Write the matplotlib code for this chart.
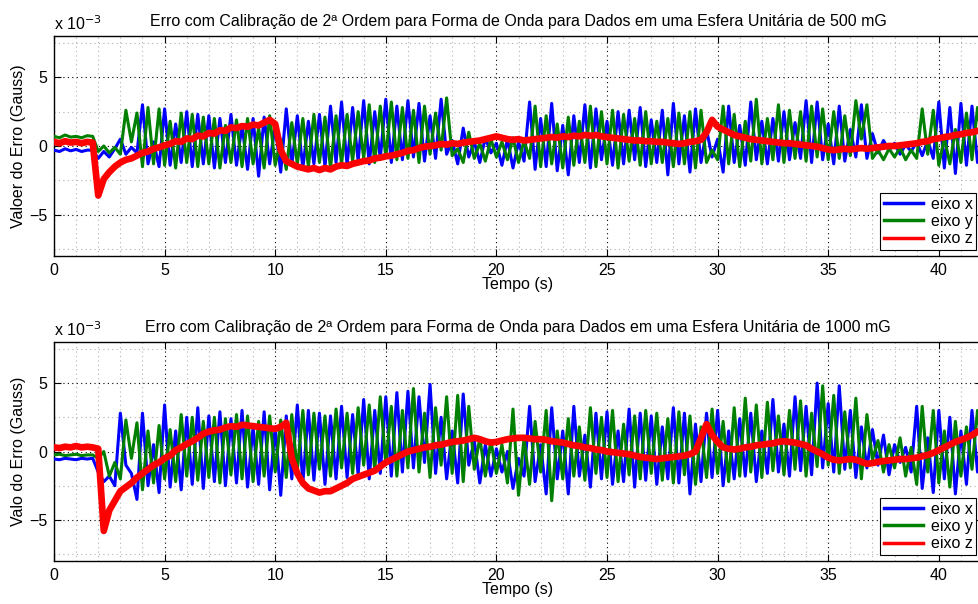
import numpy as np
import matplotlib
matplotlib.use('Agg')
import matplotlib.pyplot as plt
from matplotlib.lines import Line2D
from matplotlib.ticker import MultipleLocator

plt.rcParams['font.family'] = ['Liberation Sans', 'DejaVu Sans']

# Data (units of 1e-3 Gauss), sampled every 0.25 s from 0 to 42 s
dt = 0.25

x_500 = [
    -0.3, -0.4, -0.2, -0.35, -0.25, -0.4, -0.3, -0.3, -0.9, -0.4, -0.8, -0.2, 0.5, -0.6, -0.1, -0.5, 3.0, -1.3, 0.3, -1.5,
    2.7, -1.4, 1.6, -1.2, 2.5, -1.5, 2.3, -1.3, 2.2, -1.6, 2.0, -1.2, 2.3, -1.4, 1.5, -1.7, 2.0, -2.2, 2.1, -1.3,
    1.5, -1.9, 2.7, -1.4, 2.2, -1.6, 1.8, -1.3, 2.3, -1.5, 2.9, -1.2, 3.2, -1.4, 2.8, -1.1, 3.3, -1.3, 2.5, -0.9,
    3.4, -1.2, 2.9, -1.0, 3.3, -0.8, 3.1, -1.1, 2.2, -0.9, 3.4, -0.6, 0.4, -1.3, 1.3, -0.8, 0.3, -1.2, 0.6, -0.5,
    0.2, -1.4, 0.5, -1.6, 0.3, -1.1, 3.2, -1.7, 2.0, -1.5, 3.1, -1.8, 1.5, -2.1, 2.2, -1.2, 3.0, -1.6, 2.7, -1.0,
    1.8, -1.4, 2.5, -1.3, 2.6, -1.0, 2.8, -1.5, 1.9, -1.2, 2.6, -2.1, 3.1, -1.3, 2.2, -1.9, 2.7, -1.2, 1.2, -0.8,
    0.5, -1.9, 2.9, -1.2, 1.5, -1.4, 3.2, -1.0, 1.8, -1.3, 2.0, -1.1, 2.5, -1.0, 1.7, -0.9, 3.3, -1.2, 3.2, -1.0,
    1.6, -1.3, 2.9, -1.1, 1.2, -0.8, 3.0, -0.9, 0.9, -0.5, 0.4, -0.3, 0.2, -0.6, 0.1, -0.4, 0.3, -0.7, 0.4, -0.9,
    3.2, -1.6, 2.8, -2.0, 3.1, -1.4, 2.9, -1.2, 1.0,
]
y_500 = [
    0.7, 0.6, 0.8, 0.65, 0.7, 0.6, 0.75, 0.7, -0.4, 0.0, -0.5, -0.1, -0.6, 2.6, 0.3, 2.4, -1.5, 2.8, -1.3, 2.7,
    -1.4, 1.8, -1.6, 2.4, -1.2, 2.3, -1.5, 2.1, -1.3, 2.0, -1.6, 1.5, -1.2, 1.9, -1.5, 2.0, -1.3, 1.3, -1.6, 2.2,
    -1.4, 0.5, -1.7, 1.7, -1.3, 2.0, -1.5, 2.3, -1.2, 2.1, -1.6, 2.2, -1.3, 2.3, -1.1, 2.5, -0.9, 3.0, -1.2, 2.9,
    -0.8, 3.2, -1.0, 2.8, -0.9, 2.6, -1.2, 2.9, -0.6, 2.4, -0.3, 3.5, -0.7, -0.2, -1.2, 1.0, -0.9, 0.2, -1.1, 0.5,
    -0.8, 0.3, -1.0, 0.6, -1.2, 0.4, -0.9, 2.9, -1.5, 2.2, -1.3, 1.6, -1.6, 2.1, -1.4, 1.8, -1.2, 2.9, -1.5, 2.5,
    -1.3, 2.6, -1.6, 2.3, -1.1, 2.0, -1.4, 2.5, -1.3, 1.8, -1.2, 2.0, -1.5, 2.4, -1.3, 2.5, -1.6, 2.6, -1.2, -0.3,
    -1.0, 2.9, -1.3, 2.3, -1.5, 1.8, -1.1, 3.4, -1.3, 2.0, -1.0, 3.0, -1.2, 2.6, -0.9, 2.5, -1.1, 2.9, -0.8, 2.7,
    -1.0, 2.5, -0.9, 2.2, -0.7, 3.3, 0.5, 3.0, -0.9, -0.3, -1.0, -0.2, -0.8, -0.1, -1.0, -0.3, -0.9, 2.7, -0.6, 2.6,
    -1.4, 0.6, -1.3, 1.2, -1.2, 2.4, -1.0, 2.8, -0.5,
]
z_500 = [
    0.3, 0.2, 0.35, 0.25, 0.3, 0.2, 0.3, 0.25, -3.6, -2.4, -1.9, -1.5, -1.2, -1.0, -0.9, -0.7, -0.5, -0.4, -0.2, -0.1,
    0.05, 0.15, 0.35, 0.3, 0.55, 0.5, 0.75, 0.7, 0.95, 0.9, 1.15, 1.1, 1.35, 1.3, 1.45, 1.4, 1.55, 1.5, 1.7, 1.9,
    1.6, -0.3, -1.1, -1.3, -1.5, -1.6, -1.7, -1.6, -1.75, -1.6, -1.7, -1.5, -1.4, -1.45, -1.3, -1.2, -1.1, -1.05, -0.9, -0.85,
    -0.75, -0.7, -0.6, -0.5, -0.35, -0.3, -0.15, -0.05, 0.0, 0.05, 0.15, 0.1, 0.2, 0.15, 0.25, 0.3, 0.35, 0.4, 0.5, 0.6,
    0.7, 0.6, 0.5, 0.45, 0.5, 0.4, 0.45, 0.5, 0.55, 0.6, 0.65, 0.6, 0.7, 0.65, 0.75, 0.7, 0.8, 0.75, 0.8, 0.7,
    0.65, 0.6, 0.55, 0.5, 0.45, 0.4, 0.4, 0.35, 0.35, 0.3, 0.3, 0.25, 0.2, 0.15, 0.2, 0.3, 0.35, 0.45, 1.0, 1.9,
    1.4, 1.2, 1.0, 0.8, 0.7, 0.6, 0.5, 0.45, 0.4, 0.35, 0.3, 0.25, 0.2, 0.2, 0.15, 0.1, 0.05, 0.0, -0.05, -0.15,
    -0.25, -0.3, -0.25, -0.2, -0.25, -0.2, -0.15, -0.2, -0.15, -0.1, -0.05, 0.0, 0.0, 0.05, 0.1, 0.15, 0.2, 0.3, 0.35, 0.5,
    0.55, 0.65, 0.7, 0.8, 0.85, 0.95, 1.0, 1.1, 1.15,
]

x_1000 = [
    -0.55, -0.6, -0.5, -0.55, -0.6, -0.5, -0.55, -0.5, -1.5, -2.2, -1.8, -2.5, 2.8, -1.0, -1.6, -3.5, 2.8, -2.5, 0.5, -3.0,
    3.4, -2.6, 1.5, -2.8, 2.5, -2.4, 3.2, -2.7, 2.6, -2.2, 2.9, -2.5, 2.4, -2.3, 3.0, -2.6, 1.8, -2.4, 2.9, -2.8,
    1.8, -3.2, 2.6, -2.0, 3.4, -2.3, 3.0, -2.1, 2.8, -2.4, 2.6, -2.0, 3.3, -1.9, 2.7, -1.7, 3.8, -2.0, 3.0, -1.6,
    4.0, -1.8, 4.3, -1.5, 4.4, -1.2, 4.0, -0.8, 4.9, -1.6, 2.5, -2.0, 1.5, -2.3, 4.2, -1.0, 0.8, -2.3, 0.5, -1.8,
    0.2, -1.5, 0.0, -2.7, -0.5, -1.8, 3.3, -2.2, 0.5, -3.1, 3.2, -2.0, 1.5, -3.1, 3.3, -1.8, 1.2, -2.6, 2.8, -2.0,
    2.9, -2.4, 1.5, -2.2, 3.1, -2.6, 2.8, -2.1, 2.6, -2.4, 1.8, -2.0, 3.2, -2.3, 2.8, -3.1, 2.0, -2.2, 2.8, -1.9,
    3.0, -2.5, 1.5, -2.0, 2.4, -1.8, 2.8, -2.2, 1.5, -1.6, 3.8, -1.5, 2.0, -1.8, 4.0, -1.4, 3.3, -1.7, 5.0, -1.2,
    3.5, -1.5, 4.8, -1.3, 3.0, -1.9, 1.8, -1.2, 1.6, -1.0, 1.2, -1.7, 0.5, -0.8, 0.3, -1.5, 3.3, -2.7, 1.0, -3.0,
    3.0, -2.0, 2.5, -3.1, 1.5, -2.4, 3.0, -1.5, 2.5,
]
y_1000 = [
    -0.25, -0.2, -0.3, -0.25, -0.2, -0.3, -0.25, -0.25, -0.5, 0.0, -1.8, -0.8, -2.0, 2.3, -0.5, 2.1, -2.8, 1.5, -2.3, 1.9,
    -2.0, 1.6, -2.2, 2.7, -1.8, 2.5, -2.1, 2.2, -1.9, 2.5, -2.3, 2.4, -1.7, 2.7, -2.0, 2.6, -2.2, 2.2, -1.8, 2.6,
    -1.5, 2.3, -1.9, 2.7, -1.4, 3.0, -1.7, 2.8, -1.3, 2.6, -1.8, 3.1, -1.2, 2.8, -1.6, 3.2, -1.0, 3.4, -1.4, 4.0,
    -0.9, 3.3, -1.8, 3.0, -1.2, 4.6, -1.5, 2.8, -1.9, 3.2, -1.0, 4.0, -1.6, 4.1, -2.2, 3.3, -1.3, 1.0, -1.8, 0.8,
    -1.6, 0.5, -2.3, 3.1, -3.2, 1.0, -2.4, 2.2, -1.5, 3.0, -3.6, 1.5, -2.0, 2.4, -1.8, 1.8, -2.1, 3.2, -1.6, 2.5,
    -1.9, 3.0, -2.2, 2.0, -1.7, 2.6, -2.0, 3.0, -1.6, 2.8, -2.1, 2.4, -2.3, 2.9, -1.7, 2.6, -2.4, 1.8, -1.9, 3.1,
    -1.6, 2.2, -2.2, 3.2, -1.8, 3.9, -1.5, 3.4, -1.9, 3.6, -1.4, 2.6, -1.7, 3.0, -1.3, 3.7, -1.8, 2.8, -1.1, 4.8,
    -1.0, 4.1, -1.6, 2.9, -1.2, 3.9, -2.0, 2.7, -0.6, 0.8, -1.5, 0.5, -1.2, 1.0, -1.8, 0.3, -2.4, 3.3, -1.5, 3.0,
    -2.3, 1.5, -2.6, 2.2, -1.8, 1.8, -1.3, 3.0, -0.5,
]
z_1000 = [
    0.3, 0.25, 0.35, 0.3, 0.4, 0.3, 0.35, 0.3, 0.2, -5.8, -4.3, -3.6, -2.9, -2.6, -2.3, -1.9, -1.6, -1.3, -1.0, -0.8,
    -0.5, -0.3, 0.1, 0.3, 0.55, 0.75, 1.0, 1.3, 1.45, 1.55, 1.6, 1.75, 1.85, 1.8, 1.95, 1.9, 1.85, 1.8, 1.75, 1.7,
    1.65, 1.8, 2.1, -0.5, -1.6, -2.3, -2.7, -2.85, -3.0, -2.9, -2.9, -2.7, -2.5, -2.3, -2.0, -1.85, -1.7, -1.55, -1.4, -1.1,
    -0.8, -0.6, -0.4, -0.2, 0.0, 0.1, 0.2, 0.3, 0.35, 0.45, 0.5, 0.6, 0.7, 0.75, 0.8, 0.9, 1.0, 0.9, 0.75, 0.65,
    0.7, 0.8, 0.9, 0.95, 1.0, 1.0, 0.95, 0.9, 0.9, 0.85, 0.75, 0.7, 0.65, 0.55, 0.45, 0.4, 0.3, 0.25, 0.15, 0.1,
    0.0, -0.05, -0.1, -0.15, -0.2, -0.3, -0.4, -0.45, -0.5, -0.55, -0.5, -0.45, -0.4, -0.35, -0.3, -0.2, 0.0, 1.0, 2.0, 1.2,
    0.7, 0.3, 0.2, 0.15, 0.2, 0.3, 0.35, 0.45, 0.5, 0.55, 0.6, 0.7, 0.75, 0.7, 0.65, 0.55, 0.45, 0.2, 0.0, -0.2,
    -0.45, -0.6, -0.65, -0.6, -0.55, -0.6, -0.75, -0.9, -0.85, -0.75, -0.7, -0.65, -0.6, -0.55, -0.55, -0.5, -0.45, -0.35, -0.25, -0.1,
    0.1, 0.3, 0.5, 0.7, 0.85, 1.0, 1.2, 1.45, 1.6,
]

titles = ['Erro com Calibração de 2ª Ordem para Forma de Onda para Dados em uma Esfera Unitária de 500 mG',
          'Erro com Calibração de 2ª Ordem para Forma de Onda para Dados em uma Esfera Unitária de 1000 mG']
ylabels = ['Valoer do Erro (Gauss)', 'Valo do Erro (Gauss)']
labels = ['eixo x', 'eixo y', 'eixo z']
colors = ['#0000ff', '#008000', '#ff0000']

fig = plt.figure(figsize=(9.79, 6.04), dpi=100)
W, H = 979.0, 604.0
left, right = 54 / W, 982 / W
boxes = [(36, 256), (342, 561)]
fs = 11.5

datasets = [(x_500, y_500, z_500), (x_1000, y_1000, z_1000)]

for k, (top, bot) in enumerate(boxes):
    ax = fig.add_axes([left, 1 - bot / H, right - left, (bot - top) / H])
    xs, ys, zs = datasets[k]
    t = np.arange(len(xs)) * dt
    ax.plot(t, xs, color=colors[0], lw=2.2, zorder=3)
    ax.plot(t, ys, color=colors[1], lw=2.2, zorder=3)
    ax.plot(t, zs, color=colors[2], lw=4.8, zorder=4)

    ax.set_xlim(0, (982 - 54) / 22.12)
    ax.set_ylim(-8, 8)
    ax.xaxis.set_major_locator(MultipleLocator(5))
    ax.xaxis.set_minor_locator(MultipleLocator(1))
    ax.yaxis.set_major_locator(MultipleLocator(5))
    ax.yaxis.set_minor_locator(MultipleLocator(2.5))
    ax.grid(which='major', color='black', linestyle=(0, (1, 3)), linewidth=0.8)
    ax.grid(which='minor', color='#b0b0b0', linestyle=(0, (1, 3)), linewidth=0.8)
    ax.tick_params(which='major', direction='in', top=True, right=True, length=5,
                   labelsize=fs, pad=5)
    ax.tick_params(which='minor', length=0)
    for s in ax.spines.values():
        s.set_linewidth(1.0)

    ax.set_title(titles[k], fontsize=fs, pad=7)
    ax.set_xlabel('Tempo (s)', fontsize=fs, labelpad=-1)
    ax.set_ylabel(ylabels[k], fontsize=fs, labelpad=2)
    ax.text(0, 1.012, r'x 10$^{-3}$', transform=ax.transAxes, fontsize=fs, va='bottom', ha='left')

    handles = [Line2D([], [], color=c, lw=2.5) for c in colors]
    leg = ax.legend(handles, labels, loc='lower right', fontsize=fs, fancybox=False,
                    edgecolor='black', framealpha=1, handlelength=2.4, borderaxespad=0.35,
                    labelspacing=0.15, borderpad=0.25, handletextpad=0.5)
    leg.get_frame().set_linewidth(0.8)
    leg.set_zorder(10)

fig.savefig('out.png', dpi=100)
